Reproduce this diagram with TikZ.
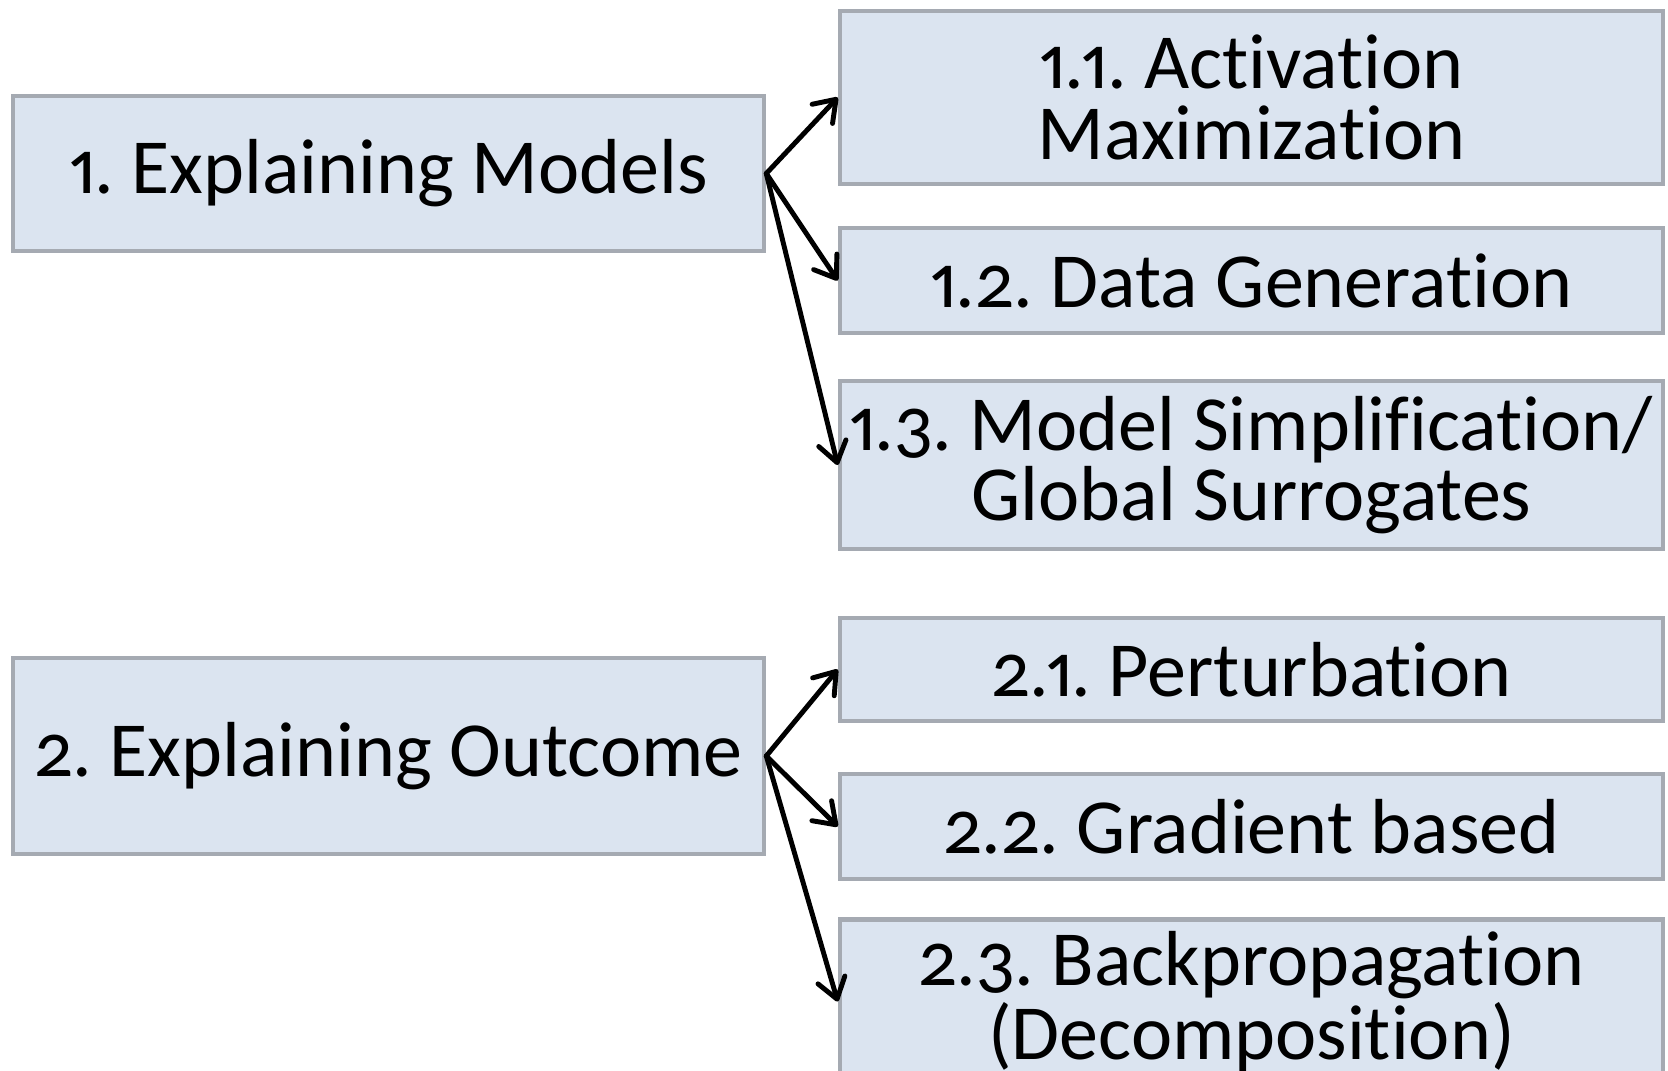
\documentclass[tikz,border=0pt]{standalone}
\usepackage{fontspec}
\setmainfont[Numbers={OldStyle,Proportional},Ligatures=NoCommon]{Carlito}
\usepackage{tikz}
\usetikzlibrary{arrows.meta,positioning}
\definecolor{boxfill}{RGB}{219,228,240}
\definecolor{boxline}{RGB}{165,170,178}
\frenchspacing

\tikzset{
  group/.style={draw=boxline,fill=boxfill,line width=1.3pt,minimum width=7.51cm,
    inner xsep=0pt,align=center,font=\fontsize{22.2}{20}\selectfont},
  method/.style={group,minimum width=8.23cm},
  arr/.style={line width=1.4pt,line cap=round,
    -{Straight Barb[length=2mm,width=2.8mm,round]}}
}

\begin{document}
\begin{tikzpicture}
  \useasboundingbox (0,0) rectangle (16.68,-10.71);
  \clip (0,0) rectangle (16.68,-10.71);
  % left column
  \node[group,minimum height=1.55cm] (models) at (3.885,-1.735) {1. Explaining Models};
  \node[group,minimum height=1.96cm] (outcome) at (3.885,-7.56) {2. Explaining Outcome};
  % right column
  \node[method,minimum height=1.73cm] (act) at (12.515,-0.975) {1.1. Activation\\Maximization};
  \node[method,minimum height=1.05cm] (gen) at (12.515,-2.805) {1.2. Data Generation};
  \node[method,minimum height=1.68cm] (simp) at (12.515,-4.65) {1.3. Model Simplification/\\Global Surrogates};
  \node[method,minimum height=1.03cm] (pert) at (12.515,-6.695) {2.1. Perturbation};
  \node[method,minimum height=1.05cm] (grad) at (12.515,-8.265) {2.2. Gradient based};
  \node[method,minimum height=1.53cm] (back) at (12.515,-10.015) {2.3. Backpropagation\\(Decomposition)};
  % connectors
  \foreach \t in {act,gen,simp}
    \draw[arr] (models.east) -- (\t.west);
  \foreach \t in {pert,grad,back}
    \draw[arr] (outcome.east) -- (\t.west);
\end{tikzpicture}
\end{document}
